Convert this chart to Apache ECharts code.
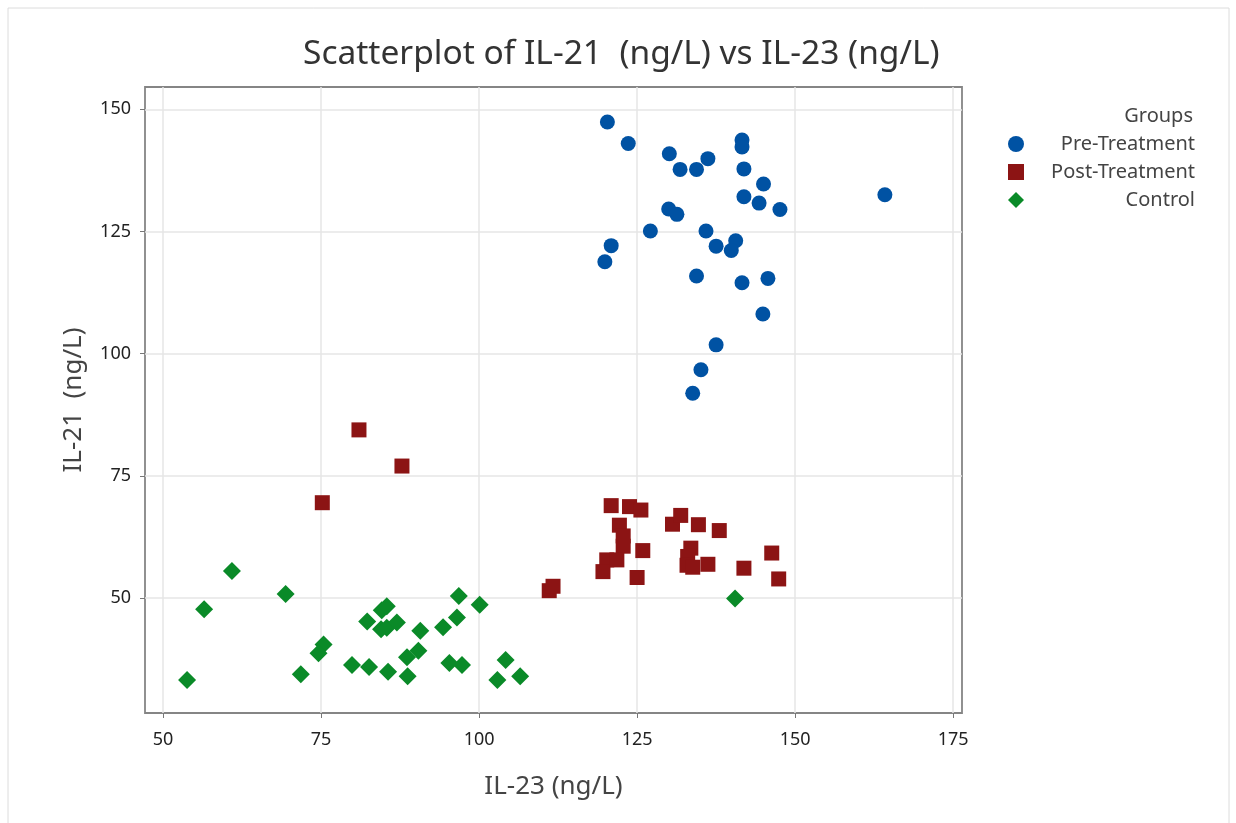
<!DOCTYPE html>
<html><head><meta charset="utf-8">
<script src="https://cdn.jsdelivr.net/npm/echarts@6/dist/echarts.min.js"></script>
<style>html,body{margin:0;padding:0;background:#fff}#c{width:1236px;height:823px}</style>
</head><body><div id="c"></div>
<script>
const groups = ['Pre-Treatment', 'Post-Treatment', 'Control'];
const xTicks = [50, 75, 100, 125, 150, 175];
const yTicks = [50, 75, 100, 125, 150];
const preTreatment = [
  [120.3,147.4],[123.6,143.0],[130.1,140.9],[136.2,139.9],[131.8,137.7],[134.4,137.7],
  [141.6,143.7],[141.6,142.3],[141.9,137.8],[145.0,134.7],[141.9,132.1],[144.3,130.8],
  [147.6,129.5],[130.0,129.6],[131.3,128.5],[127.1,125.1],[135.9,125.1],[120.9,122.1],
  [119.9,118.8],[137.5,122.0],[140.6,123.1],[139.9,121.1],[134.4,115.9],[141.6,114.5],
  [145.7,115.4],[144.9,108.1],[137.5,101.8],[135.1,96.7],[133.8,91.9],[164.2,132.5]
];
const postTreatment = [
  [81.0,84.4],[87.8,77.0],[75.2,69.5],[111.1,51.5],[111.7,52.4],
  [120.9,68.9],[123.8,68.7],[125.6,68.0],[122.2,64.9],[122.8,62.7],[122.8,60.6],
  [130.6,65.1],[131.9,66.9],[134.7,65.0],[138.0,63.8],[125.9,59.7],[120.2,57.8],
  [119.6,55.4],[121.8,57.8],[125.0,54.2],[133.5,60.2],[133.0,58.5],[132.9,56.7],
  [133.8,56.3],[136.2,56.9],[141.9,56.1],[146.3,59.2],[147.4,53.9]
];
const control = [
  [60.9,55.5],[56.5,47.7],[69.4,50.8],[53.8,33.2],[71.8,34.4],[75.4,40.5],[74.6,38.7],
  [79.9,36.3],[82.6,35.9],[85.6,34.9],[88.7,34.0],[88.6,37.9],[90.4,39.2],
  [82.3,45.2],[84.6,47.5],[85.4,48.3],[84.5,43.6],[85.4,43.9],[87.0,45.0],
  [90.7,43.3],[94.3,44.0],[96.5,46.0],[96.8,50.4],[100.1,48.6],[95.3,36.7],[97.3,36.3],
  [104.2,37.3],[102.9,33.2],[106.5,34.0],[140.5,49.9]
];
const colors = ['#0052A3', '#8C1414', '#0A8A28'];
const FONT = 'Noto Sans';
const chart = echarts.init(document.getElementById('c'));
const axisCommon = {
  axisLine: {show: false},
  axisTick: {show: true, length: 5, lineStyle: {color: '#777', width: 1}},
  axisLabel: {color: '#222', fontSize: 18, fontFamily: FONT},
  splitLine: {show: true, lineStyle: {color: '#e6e6e6', width: 1.5}},
  nameTextStyle: {color: '#444', fontSize: 26, fontFamily: FONT}
};
chart.setOption({
  animation: false,
  color: colors,
  title: [
    {text: 'Scatterplot of IL-21  (ng/L) vs IL-23 (ng/L)', left: 298, top: 32,
     textStyle: {fontSize: 33.5, fontWeight: 'normal', color: '#333', fontFamily: FONT}},
    {text: 'Groups', right: 38, top: 101,
     textStyle: {fontSize: 20, fontWeight: 'normal', color: '#444', fontFamily: FONT}}
  ],
  legend: {
    orient: 'vertical', left: 1003, top: 129, itemGap: 8, itemWidth: 16, itemHeight: 16,
    data: groups,
    formatter: '{a|{name}}',
    textStyle: {color: '#444', fontSize: 20, fontFamily: FONT,
      rich: {a: {width: 166, align: 'right', fontSize: 20, fontFamily: FONT, color: '#444'}}}
  },
  grid: {left: 145, right: 274, top: 87, bottom: 110, show: true, borderColor: '#858585', borderWidth: 1.8},
  xAxis: Object.assign({}, axisCommon, {
    type: 'value', min: 47.15, max: 176.4,
    name: 'IL-23 (ng/L)', nameLocation: 'middle', nameGap: 61,
    axisTick: Object.assign({}, axisCommon.axisTick, {customValues: xTicks}),
    axisLabel: Object.assign({}, axisCommon.axisLabel, {customValues: xTicks, margin: 18})
  }),
  yAxis: Object.assign({}, axisCommon, {
    type: 'value', min: 26.47, max: 154.56,
    name: 'IL-21  (ng/L)', nameLocation: 'middle', nameGap: 58,
    axisTick: Object.assign({}, axisCommon.axisTick, {customValues: yTicks}),
    axisLabel: Object.assign({}, axisCommon.axisLabel, {customValues: yTicks, margin: 14})
  }),
  graphic: [{type: 'rect', shape: {x: 8, y: 8, width: 1221, height: 830}, style: {fill: 'none', stroke: '#dcdcdc', lineWidth: 1}, silent: true, z: -1}],
  series: [
    {name: groups[0], type: 'scatter', data: preTreatment, symbol: 'circle', symbolSize: 15, itemStyle: {opacity: 1}},
    {name: groups[1], type: 'scatter', data: postTreatment, symbol: 'rect', symbolSize: 15, itemStyle: {opacity: 1}},
    {name: groups[2], type: 'scatter', data: control, symbol: 'diamond', symbolSize: 18, itemStyle: {opacity: 1}}
  ]
});
</script></body></html>
